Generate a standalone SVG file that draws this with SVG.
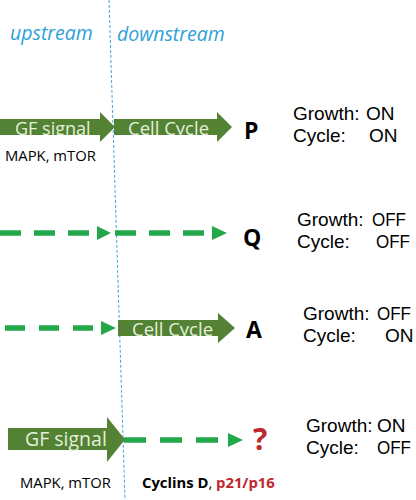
<svg xmlns="http://www.w3.org/2000/svg" width="416" height="500" viewBox="0 0 416 500">
<style>
.hdr{font-family:"Open Sans","Liberation Sans",sans-serif;font-style:italic;font-size:19.5px;fill:#2e9fd8}
.big{fill:#548235}
.lbl{font-family:"Open Sans","Liberation Sans",sans-serif;font-size:18px;fill:#e2f0d9}
.st{font-family:"Liberation Sans","Open Sans",sans-serif;font-size:19px;fill:#000}
.sm{font-family:"Open Sans","Liberation Sans",sans-serif;font-size:14.8px;fill:#000}
.let{font-family:"Open Sans","Liberation Sans",sans-serif;font-size:23px;font-weight:bold;fill:#000}
.dash{stroke:#22a84a;stroke-width:5.5;fill:none}
.head{fill:#22a84a}
</style>
<defs>
<clipPath id="cp1"><polygon points="0,119 100,119 100,112 115,127 100,142 100,135 0,135"/></clipPath>
<clipPath id="cp2"><polygon points="114,119 217,119 217,112 232,127 217,142 217,135 114,135"/></clipPath>
<clipPath id="cp3"><polygon points="118,320 218,320 218,313 235,328 218,343 218,336 118,336"/></clipPath>
</defs>
<rect width="416" height="500" fill="#fff"/>
<g id="headers">
<text class="hdr" x="10" y="40">upstream</text>
<text class="hdr" x="117" y="41">downstream</text>
</g>
<g id="connectors">
<line x1="109" y1="0" x2="125" y2="500" stroke="#3fa7dd" stroke-width="1" stroke-dasharray="3 2"/>
<line class="dash" x1="0" y1="233" x2="97" y2="233" stroke-dasharray="21 13"/>
<polygon class="head" points="97,226 111,233 97,240"/>
<line class="dash" x1="115" y1="233" x2="212" y2="233" stroke-dasharray="21 13"/>
<polygon class="head" points="212,226 227,233 212,240"/>
<line class="dash" x1="5" y1="328" x2="101" y2="328" stroke-dasharray="20 14"/>
<polygon class="head" points="101,321 116,328 101,335"/>
<line class="dash" x1="124" y1="440" x2="228" y2="440" stroke-dasharray="22 14"/>
<polygon class="head" points="228,433 243,440 228,447"/>
</g>
<g id="rowP">
<polygon class="big" points="0,119 100,119 100,112 115,127 100,142 100,135 0,135"/>
<text class="lbl" x="15" y="135" clip-path="url(#cp1)">GF signal</text>
<polygon class="big" points="114,119 217,119 217,112 232,127 217,142 217,135 114,135"/>
<text class="lbl" x="128" y="135" style="font-size:18.5px" clip-path="url(#cp2)">Cell Cycle</text>
<text class="sm" x="5" y="161">MAPK, mTOR</text>
<text class="let" x="244" y="139">P</text>
<text class="st" x="293" y="120">Growth:</text><text class="st" x="366" y="120">ON</text>
<text class="st" x="293" y="142">Cycle:</text><text class="st" x="369" y="142">ON</text>
</g>
<g id="rowQ">
<text class="let" x="243" y="246">Q</text>
<text class="st" x="297" y="226">Growth:</text><text class="st" x="372" y="226" textLength="34" lengthAdjust="spacingAndGlyphs">OFF</text>
<text class="st" x="297" y="248">Cycle:</text><text class="st" x="376" y="248" textLength="34" lengthAdjust="spacingAndGlyphs">OFF</text>
</g>
<g id="rowA">
<polygon class="big" points="118,320 218,320 218,313 235,328 218,343 218,336 118,336"/>
<text class="lbl" x="132" y="336" style="font-size:18.5px" clip-path="url(#cp3)">Cell Cycle</text>
<text class="let" x="246" y="338">A</text>
<text class="st" x="303" y="320">Growth:</text><text class="st" x="377" y="320" textLength="34" lengthAdjust="spacingAndGlyphs">OFF</text>
<text class="st" x="303" y="342">Cycle:</text><text class="st" x="385" y="342">ON</text>
</g>
<g id="rowX">
<polygon class="big" points="8,428 107,428 107,417 125,439.5 107,462 107,450 8,450"/>
<text class="lbl" x="25" y="446" style="font-size:19.5px">GF signal</text>
<text class="sm" x="20" y="488">MAPK, mTOR</text>
<text class="sm" x="142" y="488"><tspan font-weight="bold">Cyclins D</tspan>, <tspan font-weight="bold" fill="#c0282d">p21/p16</tspan></text>
<text class="let" x="253" y="450" style="font-size:30px;fill:#c0282d">?</text>
<text class="st" x="306" y="432">Growth:</text><text class="st" x="377" y="432">ON</text>
<text class="st" x="306" y="454">Cycle:</text><text class="st" x="377" y="454" textLength="34" lengthAdjust="spacingAndGlyphs">OFF</text>
</g>
</svg>
